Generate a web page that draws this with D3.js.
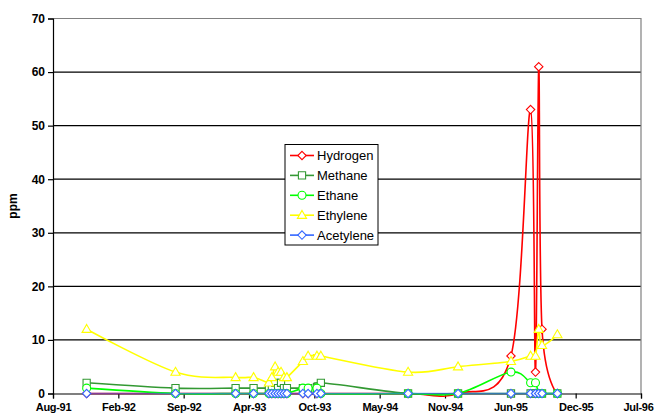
<!DOCTYPE html>
<html>
<head>
<meta charset="utf-8">
<script src="https://cdn.jsdelivr.net/npm/d3@7/dist/d3.min.js"></script>
<style>
  html, body { margin: 0; padding: 0; background: #fff; }
  svg { display: block; font-family: "Liberation Sans", Arial, sans-serif; }
</style>
</head>
<body>
<svg id="chart" width="655" height="417"></svg>
<script>
// Dissolved gas samples (ppm)
const sampleDates = [
  "1991-11-21", "1992-08-19", "1993-02-19", "1993-04-15",
  "1993-06-01", "1993-06-10", "1993-06-20", "1993-06-29", "1993-07-08", "1993-07-17", "1993-07-26",
  "1993-09-13", "1993-09-29", "1993-10-26", "1993-11-07",
  "1994-08-01", "1995-01-01", "1995-06-12",
  "1995-08-11", "1995-08-26", "1995-09-05", "1995-09-15", "1995-11-01"
];
const hydrogen  = [0, 0, 0, 0,  0, 0, 0, 0, 0, 0, 0,  0, 0, 0, 0,  0, 0, 7,  53, 4, 61, 12, 0];
const methane   = [2, 1, 1, 1,  1, 1, 2, 1, 2, 1, 1,  1, 1, 1, 2,  0, 0, 0,  0, 0, 0, 0, 0];
const ethane    = [1, 0, 0, 0,  0, 0, 0, 0, 0, 0, 0,  1, 1, 1, 0,  0, 0, 4,  2, 2, 0, 0, 0];
const ethylene  = [12, 4, 3, 3, 2, 3, 5, 4, 4, 3, 3,  6, 7, 7, 7,  4, 5, 6,  7, 7, 12, 9, 11];
const acetylene = [0, 0, 0, 0,  0, 0, 0, 0, 0, 0, 0,  0, 0, 0, 0,  0, 0, 0,  0, 0, 0, 0, 0];

const seriesNames  = ["Hydrogen", "Methane", "Ethane", "Ethylene", "Acetylene"];
const seriesValues = [hydrogen, methane, ethane, ethylene, acetylene];
const seriesColors = ["#FF0000", "#339933", "#00FF00", "#FFFF00", "#3366FF"];
const seriesMarkers = ["diamond", "square", "circle", "triangle", "diamond"];

const xStart = "1991-08-10";
const xTickStepDays = 200;
const xTickLabels = ["Aug-91", "Feb-92", "Sep-92", "Apr-93", "Oct-93", "May-94", "Nov-94", "Jun-95", "Dec-95", "Jul-96"];
const yTicks = [0, 10, 20, 30, 40, 50, 60, 70];
const yLabel = "ppm";

const parse = d3.utcParse("%Y-%m-%d");
const dates = sampleDates.map(parse);
const start = parse(xStart);
const xTickValues = xTickLabels.map((_, i) => d3.utcDay.offset(start, i * xTickStepDays));

const plot = { left: 53, right: 641, top: 18.5, bottom: 393.5 };

const x = d3.scaleUtc()
  .domain([xTickValues[0], xTickValues[xTickValues.length - 1]])
  .range([plot.left, plot.right]);
const y = d3.scaleLinear().domain([0, 70]).range([plot.bottom, plot.top]);

const svg = d3.select("#chart");

// Gridlines
svg.append("g")
  .selectAll("line")
  .data(yTicks.filter(t => t > 0 && t < 70))
  .join("line")
  .attr("x1", plot.left).attr("x2", plot.right)
  .attr("y1", d => y(d)).attr("y2", d => y(d))
  .attr("stroke", "#000").attr("stroke-width", 1.2);

// Plot area border (top and right)
svg.append("path")
  .attr("d", `M${plot.left},${plot.top}H${plot.right}V${plot.bottom}`)
  .attr("fill", "none").attr("stroke", "#808080").attr("stroke-width", 1.2);

// Axes
const yAxis = d3.axisLeft(y).tickValues(yTicks).tickSize(5).tickPadding(3).tickFormat(d3.format("d"));
const gy = svg.append("g").attr("transform", `translate(${plot.left},0)`).call(yAxis);
gy.select(".domain").attr("stroke", "#000").attr("stroke-width", 1.2);
gy.selectAll(".tick line").attr("stroke", "#000").attr("stroke-width", 1.2);
gy.selectAll(".tick text").attr("font-size", 12).attr("font-weight", "bold").attr("fill", "#000")
  .attr("font-family", "'Liberation Sans', Arial, sans-serif");

const xAxis = d3.axisBottom(x).tickValues(xTickValues).tickSize(5).tickPadding(5)
  .tickFormat((d, i) => xTickLabels[i]);
const gx = svg.append("g").attr("transform", `translate(0,${plot.bottom})`).call(xAxis);
gx.select(".domain").attr("stroke", "#000").attr("stroke-width", 1.2);
gx.selectAll(".tick line").attr("stroke", "#000").attr("stroke-width", 1.2);
gx.selectAll(".tick text").attr("font-size", 11).attr("font-weight", "bold").attr("fill", "#000")
  .attr("letter-spacing", "-0.3px")
  .attr("font-family", "'Liberation Sans', Arial, sans-serif");
// keep the last date label inside the page
gx.selectAll(".tick text").filter((d, i) => i === xTickLabels.length - 1)
  .attr("text-anchor", "end").attr("dx", "12px");

svg.append("text")
  .attr("transform", `translate(17,${(plot.top + plot.bottom) / 2}) rotate(-90)`)
  .attr("text-anchor", "middle")
  .attr("font-size", 12).attr("font-weight", "bold")
  .text(yLabel);

// Marker shapes
function markerPath(kind) {
  switch (kind) {
    case "diamond": return "M0,-4.2L4.2,0L0,4.2L-4.2,0Z";
    case "square": return "M-3.6,-3.6H3.6V3.6H-3.6Z";
    case "circle": return d3.symbol(d3.symbolCircle, 50)();
    case "triangle": return "M0,-4.8L4.6,3.2H-4.6Z";
  }
}

const line = d3.line()
  .x(d => x(d.date))
  .y(d => y(d.value))
  .curve(d3.curveCardinal.tension(0));

seriesNames.forEach((name, s) => {
  const pts = dates.map((date, i) => ({ date, value: seriesValues[s][i] }));
  const g = svg.append("g").attr("class", "series");
  g.append("path")
    .attr("d", line(pts))
    .attr("fill", "none")
    .attr("stroke", seriesColors[s])
    .attr("stroke-width", 1.6)
    .attr("stroke-opacity", name === "Acetylene" ? 0.6 : 1);
  g.selectAll("path.mark")
    .data(pts)
    .join("path")
    .attr("class", "mark")
    .attr("d", markerPath(seriesMarkers[s]))
    .attr("transform", d => `translate(${x(d.date)},${y(d.value)})`)
    .attr("fill", "#fff")
    .attr("stroke", seriesColors[s])
    .attr("stroke-width", 1.1);
});

// Legend
const legend = svg.append("g").attr("transform", "translate(285,144.5)");
legend.append("rect")
  .attr("width", 93).attr("height", 100.5)
  .attr("fill", "#fff").attr("stroke", "#000").attr("stroke-width", 1);
seriesNames.forEach((name, s) => {
  const row = legend.append("g").attr("transform", `translate(0,${11 + s * 19.9})`);
  row.append("line").attr("x1", 5).attr("x2", 29).attr("y1", 0).attr("y2", 0)
    .attr("stroke", seriesColors[s]).attr("stroke-width", 1.6);
  row.append("path").attr("d", markerPath(seriesMarkers[s]))
    .attr("transform", "translate(17,0)")
    .attr("fill", "#fff").attr("stroke", seriesColors[s]).attr("stroke-width", 1.1);
  row.append("text").attr("x", 32).attr("y", 0).attr("dy", "0.36em")
    .attr("font-size", 13).attr("fill", "#000").text(name);
});
</script>
</body>
</html>
